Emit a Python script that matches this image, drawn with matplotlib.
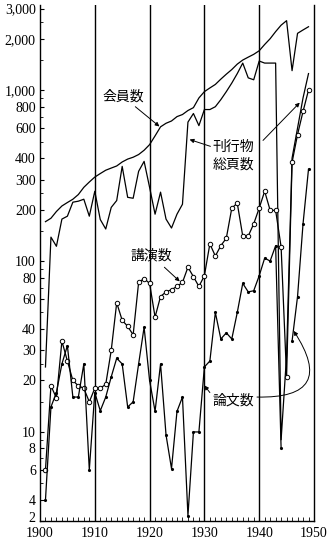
import numpy as np
import matplotlib
matplotlib.use('Agg')
import matplotlib.pyplot as plt
import matplotlib.transforms as mtransforms
from matplotlib.ticker import FixedLocator, FixedFormatter, MultipleLocator

years = list(range(1901, 1950))

# 会員数
members = [170, 178, 195, 210, 220, 230, 245, 270, 290, 310,
           325, 340, 350, 360, 380, 395, 405, 420, 445, 480,
           540, 610, 640, 660, 700, 720, 760, 790, 900, 980,
           1030, 1080, 1160, 1240, 1320, 1420, 1500, 1560, 1620, 1700,
           1850, 2000, 2200, 2400, 2550, 1300, 2150, 2250, 2350]
# 刊行物総頁数
pages = [24, 138, 122, 176, 183, 221, 224, 230, 183, 256,
         175, 154, 206, 226, 358, 236, 233, 335, 383, 270,
         188, 253, 176, 156, 188, 215, 650, 730, 620, 770,
         770, 800, 880, 980, 1100, 1250, 1440, 1180, 1150, 1480,
         1440, 1440, 1440, 9, 28, 400, 600, 900, 1250]
# 講演数
lectures = [6, 18.6, 15.8, 34, 26, 20, 18.6, 18, 15, 18,
            18, 19, 30, 57, 45, 41.5, 37, 75, 79, 74,
            47, 62, 66, 68, 71, 75, 92, 81, 71, 82,
            126, 107, 123, 136, 204, 218, 140, 140, 165, 204,
            256, 198, 198, 121, 21, 378, 550, 750, 1000]
# 論文数
papers = [4, 14, 17, 25, 32, 16, 16, 25, 6, 17,
          13.3, 16, 21, 27, 25, 14, 15, 25, 41, 20,
          13.2, 25, 9.6, 6.1, 13.2, 16, 2.5, 10, 10, 24,
          26, 50, 35, 38, 35, 50, 74, 66, 67, 82,
          104, 100, 123, 8, np.nan, 34, 62, 165, 345]

ytick_vals = [2, 4, 6, 8, 10, 20, 30, 40, 60, 80, 100, 200, 300, 400, 600, 800, 1000, 2000, 3000]
ytick_labels = ['2', '4', '6', '8', '10', '20', '30', '40', '60', '80', '100',
                '200', '300', '400', '600', '800', '1,000', '2,000', '3,000']
yminor_vals = [5, 7, 9, 15, 25, 50, 70, 90, 150, 250, 500, 700, 900, 1500, 2500]
decades = [1910, 1920, 1930, 1940]

# log axis, squeezed below 4 (the original has a break down to 2)
K = 0.0612
L4 = np.log10(4)

def fwd(y):
    y = np.asarray(y, float)
    return np.where(y >= 4, np.log10(np.maximum(y, 4)), L4 - (4 - y) * K)

def inv(u):
    u = np.asarray(u, float)
    return np.where(u >= L4, 10 ** np.clip(u, L4, 10), 4 - (L4 - u) / K)

serif = 'Liberation Serif'
jp = ['Noto Sans CJK JP', 'DejaVu Sans']

fig = plt.figure(figsize=(3.31, 5.42), dpi=100, facecolor='w')
ax = fig.add_axes([0.1208, 0.039, 0.8278, 0.9518])
ax.set_yscale('function', functions=(fwd, inv))
ax.set_xlim(1900, 1950)
ax.set_ylim(2, 3150)

for d in decades:
    ax.axvline(d, color='k', lw=1.0)

lw = 0.9
ax.plot(years, members, color='k', lw=lw)
ax.plot(years, pages, color='k', lw=lw)
ax.plot(years, lectures, color='k', lw=lw, marker='o', ms=3.2,
        mfc='w', mec='k', mew=0.7)
ax.plot(years, papers, color='k', lw=lw, marker='.', ms=2.5)

ax.spines['top'].set_visible(False)
for s in ['left', 'bottom', 'right']:
    ax.spines[s].set_linewidth(1.0)

ax.yaxis.set_major_locator(FixedLocator(ytick_vals))
ax.yaxis.set_major_formatter(FixedFormatter(ytick_labels))
ax.yaxis.set_minor_locator(FixedLocator(yminor_vals))
ax.xaxis.set_major_locator(MultipleLocator(10))
ax.xaxis.set_minor_locator(MultipleLocator(1))
ax.tick_params(axis='y', which='major', direction='in', length=3, width=0.8, pad=3)
ax.tick_params(axis='y', which='minor', direction='in', length=2, width=0.6)
ax.tick_params(axis='x', which='major', direction='in', length=0, pad=4.5)
ax.tick_params(axis='x', which='minor', direction='in', length=3, width=0.6)
ax.tick_params(right=False, which='both')
for t in ax.get_xticklabels() + ax.get_yticklabels():
    t.set_fontfamily(serif)
    t.set_fontsize(10)

# lift the bottom "2" a little so it clears the 1900 label
lab2 = ax.yaxis.get_major_ticks()[0].label1
lab2.set_transform(lab2.get_transform() + mtransforms.ScaledTranslation(0, 3 / 72, fig.dpi_scale_trans))

ap = dict(arrowstyle='-|>', color='k', lw=0.7, mutation_scale=6, shrinkA=0, shrinkB=0)

ax.text(1915.2, 917, '会員数', fontsize=10, family=jp, ha='center', va='center')
ax.annotate('', xy=(1921.8, 613), xytext=(1917.4, 800), arrowprops=ap)

ax.text(1935.3, 412, '刊行物\n総頁数', fontsize=10, family=jp, ha='center', va='center',
        linespacing=1.3)
ax.annotate('', xy=(1927.3, 514), xytext=(1931.1, 469), arrowprops=ap)
ax.annotate('', xy=(1947.4, 845), xytext=(1940.7, 508), arrowprops=ap)

ax.text(1920.3, 108, '講演数', fontsize=10, family=jp, ha='center', va='center')
ax.annotate('', xy=(1925.5, 76), xytext=(1922.7, 92), arrowprops=ap)

ax.text(1935.2, 15.3, '論文数', fontsize=10, family=jp, ha='center', va='center')
ax.annotate('', xy=(1930.0, 18.7), xytext=(1931.0, 17.0), arrowprops=ap)
ax.annotate('', xy=(1946.3, 39), xytext=(1939.6, 16),
            arrowprops=dict(ap, connectionstyle='arc3,rad=0.95'))

fig.savefig('out.png', dpi=100, facecolor='w')
